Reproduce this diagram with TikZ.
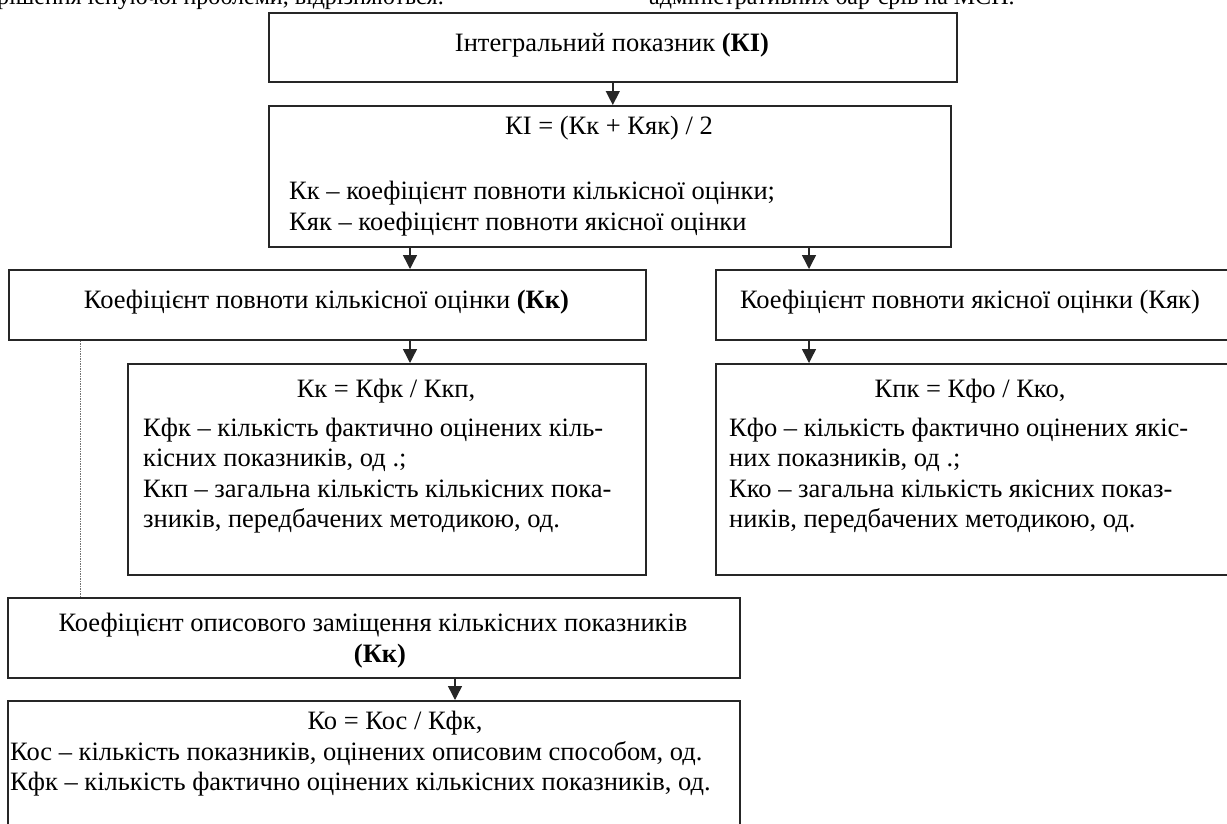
\documentclass[tikz,border=0pt]{standalone}
\usepackage{fontspec}
\setmainfont{Liberation Serif}
\usetikzlibrary{arrows.meta,calc}
\begin{document}
\begin{tikzpicture}[x=1pt,y=-1pt,
  box/.style={draw=black!85, line width=1.6pt, rectangle, inner sep=0pt, anchor=north west},
  txt/.style={inner sep=0pt, font=\fontsize{26.5}{30}\selectfont},
  toptxt/.style={inner sep=0pt, anchor=base west, font=\fontsize{24}{28}\selectfont},
  arr/.style={draw=black!85, line width=1.4pt, -{Triangle[length=14pt,width=14pt]}},
  dotline/.style={draw=black!55, line width=0.9pt, dash pattern=on 1.5pt off 1pt}]
\useasboundingbox (0,0) rectangle (1227,823);
\clip (0,0) rectangle (1227,823);
% cut-off line of body text above the figure
\node[toptxt] (p1) at (-3,4) {рішення існуючої проблеми, відрізняються.};
\node[toptxt] (p2) at (649,4) {адміністративних бар'єрів на МСП.};
% boxes
\node[box, minimum width=688pt, minimum height=69pt]  (b1) at (268,12) {};
\node[box, minimum width=682pt, minimum height=141pt] (b2) at (268,105) {};
\node[box, minimum width=637pt, minimum height=70pt]  (b3) at (8,269) {};
\node[box, minimum width=512.5pt, minimum height=70pt]  (b4) at (715,269) {};
\node[box, minimum width=518pt, minimum height=211pt] (b5) at (127,363) {};
\node[box, minimum width=512.5pt, minimum height=211pt] (b6) at (715,363) {};
\node[box, minimum width=732pt, minimum height=80pt]  (b7) at (7,597) {};
\node[box, minimum width=732pt, minimum height=160pt] (b8) at (7,700) {};
% texts
\node[txt, anchor=base] (t1) at (612,51) {Інтегральний показник \textbf{(КІ)}};
\node[txt, anchor=base] (t2a) at (609,134) {КІ = (Кк + Кяк) / 2};
\node[txt, anchor=base west] (t2b) at (289,199) {Кк – коефіцієнт повноти кількісної оцінки;};
\node[txt, anchor=base west] (t2c) at (289,230) {Кяк – коефіцієнт повноти якісної оцінки};
\node[txt, anchor=base] (t3) at (326.5,308) {Коефіцієнт повноти кількісної оцінки \textbf{(Кк)}};
\node[txt, anchor=base] (t4) at (970,308) {Коефіцієнт повноти якісної оцінки (Кяк)};
\node[txt, anchor=base] (t5a) at (386,397) {Кк = Кфк / Ккп,};
\node[txt, anchor=base west] (t5b) at (143,436) {Кфк – кількість фактично оцінених кіль-};
\node[txt, anchor=base west] (t5c) at (143,466.5) {кісних показників, од .;};
\node[txt, anchor=base west] (t5d) at (143,497) {Ккп – загальна кількість кількісних пока-};
\node[txt, anchor=base west] (t5e) at (143,527.5) {зників, передбачених методикою, од.};
\node[txt, anchor=base] (t6a) at (970,397) {Кпк = Кфо / Кко,};
\node[txt, anchor=base west] (t6b) at (729,436) {Кфо – кількість фактично оцінених якіс-};
\node[txt, anchor=base west] (t6c) at (729,466.5) {них показників, од .;};
\node[txt, anchor=base west] (t6d) at (729,497) {Кко – загальна кількість якісних показ-};
\node[txt, anchor=base west] (t6e) at (729,527.5) {ників, передбачених методикою, од.};
\node[txt, anchor=base] (t7a) at (373,631) {Коефіцієнт описового заміщення кількісних показників};
\node[txt, anchor=base] (t7b) at (380,662) {\textbf{(Кк)}};
\node[txt, anchor=base] (t8a) at (395,729) {Ко = Кос / Кфк,};
\node[txt, anchor=base west] (t8b) at (10,760) {Кос – кількість показників, оцінених описовим способом, од.};
\node[txt, anchor=base west] (t8c) at (10,790) {Кфк – кількість фактично оцінених кількісних показників, од.};
% connector coordinates
\coordinate (aL) at ($(b3.north west)+(402,0)$);
\coordinate (aR) at ($(b4.north west)+(94,0)$);
\coordinate (aLL) at ($(b5.north west)+(283,0)$);
\coordinate (aRR) at ($(b6.north west)+(94,0)$);
\coordinate (aB) at ($(b8.north west)+(448,0)$);
\coordinate (d1) at ($(b3.south west)+(72,0)$);
% connectors
\draw[arr] (b1.south) -- (b1.south |- b2.north);
\draw[arr] (aL |- b2.south) -- (aL);
\draw[arr] (aR |- b2.south) -- (aR);
\draw[arr] (aLL |- b3.south) -- (aLL);
\draw[arr] (aRR |- b4.south) -- (aRR);
\draw[arr] (aB |- b7.south) -- (aB);
\draw[dotline] (d1) -- (d1 |- b7.north);
\end{tikzpicture}
\end{document}
